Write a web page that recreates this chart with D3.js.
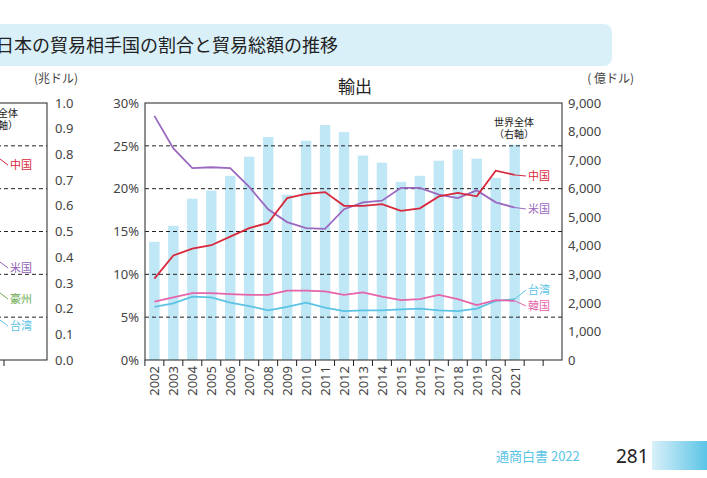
<!DOCTYPE html>
<html><head><meta charset="utf-8">
<script src="https://cdn.jsdelivr.net/npm/d3@7"></script>
<style>body{margin:0;background:#fff;font-family:"Noto Sans CJK JP","Noto Sans",sans-serif}</style>
</head><body><svg id="c" width="707" height="478"></svg>
<script>
var years = ["2002","2003","2004","2005","2006","2007","2008","2009","2010","2011","2012","2013","2014","2015","2016","2017","2018","2019","2020","2021"];
var worldTotal = [4140,4700,5650,5930,6450,7120,7810,5790,7680,8230,7980,7160,6910,6240,6450,6980,7370,7050,6380,7540];
var china = [9.5,12.2,13.0,13.4,14.4,15.4,16.0,18.9,19.4,19.6,18.0,18.0,18.2,17.4,17.7,19.1,19.5,19.1,22.1,21.6];
var usa = [28.5,24.7,22.4,22.5,22.4,20.2,17.6,16.1,15.4,15.3,17.6,18.4,18.6,20.1,20.1,19.3,18.9,19.8,18.4,17.8];
var korea = [6.8,7.3,7.8,7.8,7.7,7.6,7.6,8.1,8.1,8.0,7.6,7.9,7.4,7.0,7.1,7.6,7.1,6.4,7.0,6.9];
var taiwan = [6.2,6.6,7.4,7.3,6.7,6.3,5.8,6.2,6.7,6.1,5.7,5.8,5.8,5.9,6.0,5.8,5.7,6.0,6.9,7.1];
var pctTicks = [0,5,10,15,20,25,30];
var amtTicks = [0,1000,2000,3000,4000,5000,6000,7000,8000,9000];
var leftTicks = [0,0.1,0.2,0.3,0.4,0.5,0.6,0.7,0.8,0.9,1.0];

var svg = d3.select("#c");
var blue = "#5bc4e6", barC = "#bfe7f6";

// header band
svg.append("rect").attr("x",-20).attr("y",24).attr("width",632).attr("height",42).attr("rx",8).attr("fill","#d9f0f9");
svg.append("text").attr("x",-4).attr("y",52).attr("font-size",18).attr("fill","#222").text("日本の貿易相手国の割合と貿易総額の推移");

// left partial panel
var ly = d3.scaleLinear().domain([0,1]).range([360,103]);
svg.append("rect").attr("x",-10).attr("y",103).attr("width",57).attr("height",257).attr("fill","none").attr("stroke","#222");
[1,2,3,4,5].forEach(function(k){
  svg.append("line").attr("x1",-10).attr("x2",47).attr("y1",ly(k/6)).attr("y2",ly(k/6)).attr("stroke","#222").attr("stroke-dasharray","4,3");
});
svg.append("g").attr("transform","translate(47,0)").call(d3.axisRight(ly).tickValues(leftTicks).tickFormat(d3.format(".1f")).tickSize(0).tickPadding(8))
  .call(function(g){g.select(".domain").remove();g.selectAll("text").attr("font-size",13).attr("fill","#444").attr("font-family","Noto Sans");});
svg.append("text").attr("x",78).attr("y",83).attr("text-anchor","end").attr("font-size",12).attr("fill","#444").text("(兆ドル)");
svg.append("text").attr("x",-2).attr("y",117).attr("font-size",10).attr("fill","#222").text("全体");
svg.append("text").attr("x",-2).attr("y",129).attr("font-size",10).attr("fill","#222").text("軸）");
svg.append("line").attr("x1",4).attr("x2",4).attr("y1",360).attr("y2",366).attr("stroke","#222");
var leftLabels = [["中国","#d8283c",165],["米国","#8f62b5",268],["豪州","#6aa84f",299],["台湾",blue,326]];
leftLabels.forEach(function(d){
  svg.append("path").attr("d","M0,"+(d[2]-6)+"L8,"+d[2]).attr("stroke",d[1]).attr("fill","none");
  svg.append("text").attr("x",10).attr("y",d[2]+4).attr("font-size",11).attr("fill",d[1]).text(d[0]);
});

// main chart
var px0 = 145, px1 = 562, pTop = 103, pBot = 360;
var xb = d3.scaleBand().domain(years.concat(["e1","e2"])).range([px0,px1]).paddingInner(0.45).paddingOuter(0.22);
var yp = d3.scaleLinear().domain([0,30]).range([pBot,pTop]);
var ya = d3.scaleLinear().domain([0,9000]).range([pBot,pTop]);

svg.selectAll(".bar").data(worldTotal).enter().append("rect")
  .attr("x",function(d,i){return xb(years[i]);}).attr("width",xb.bandwidth())
  .attr("y",function(d){return ya(d);}).attr("height",function(d){return pBot-ya(d);}).attr("fill",barC);

[5,10,15,20,25].forEach(function(v){
  svg.append("line").attr("x1",px0).attr("x2",px1).attr("y1",yp(v)).attr("y2",yp(v)).attr("stroke","#222").attr("stroke-dasharray","4,3");
});
svg.append("rect").attr("x",px0).attr("y",pTop).attr("width",px1-px0).attr("height",pBot-pTop).attr("fill","none").attr("stroke","#222");

var cx = function(i){return xb(years[i])+xb.bandwidth()/2;};
var line = d3.line().x(function(d,i){return cx(i);}).y(function(d){return yp(d);});
[[usa,"#9b69c0"],[taiwan,"#5cc3e4"],[korea,"#e565aa"],[china,"#d8283c"]].forEach(function(s){
  svg.append("path").datum(s[0]).attr("d",line).attr("fill","none").attr("stroke",s[1]).attr("stroke-width",1.8);
});

svg.append("g").attr("transform","translate("+px0+",0)").call(d3.axisLeft(yp).tickValues(pctTicks).tickFormat(function(d){return d+"%";}).tickSize(0).tickPadding(6))
  .call(function(g){g.select(".domain").remove();g.selectAll("text").attr("font-size",13).attr("fill","#444").attr("font-family","Noto Sans");});
svg.append("g").attr("transform","translate("+px1+",0)").call(d3.axisRight(ya).tickValues(amtTicks).tickFormat(d3.format(",")).tickSize(0).tickPadding(6))
  .call(function(g){g.select(".domain").remove();g.selectAll("text").attr("font-size",13).attr("fill","#444").attr("font-family","Noto Sans");});

// x axis ticks & labels
var step = xb.step(), gap = step - xb.bandwidth();
for (var i=0;i<=21;i++){
  var tx = xb(years[0]) - gap/2 + i*step;
  svg.append("line").attr("x1",tx).attr("x2",tx).attr("y1",pBot).attr("y2",pBot+6).attr("stroke","#222");
}
svg.selectAll(".xl").data(years).enter().append("text")
  .attr("transform",function(d,i){return "translate("+(cx(i)+5)+","+(pBot+6)+") rotate(-90)";})
  .attr("text-anchor","end").attr("font-size",13).attr("fill","#444").attr("font-family","Noto Sans").text(function(d){return d;});

svg.append("text").attr("x",355).attr("y",93).attr("text-anchor","middle").attr("font-size",17).attr("fill","#222").text("輸出");
svg.append("text").attr("x",634).attr("y",83).attr("text-anchor","end").attr("font-size",12).attr("fill","#444").text("( 億ドル)");
svg.append("text").attr("x",514).attr("y",126).attr("text-anchor","middle").attr("font-size",10).attr("fill","#222").text("世界全体");
svg.append("text").attr("x",514).attr("y",138).attr("text-anchor","middle").attr("font-size",10).attr("fill","#222").text("（右軸）");

var n = years.length-1;
var ends = [[china,"中国","#d8283c",176],[usa,"米国","#9b69c0",209],[taiwan,"台湾",blue,290],[korea,"韓国","#e565aa",306]];
ends.forEach(function(e){
  svg.append("path").attr("d","M"+cx(n)+","+yp(e[0][n])+"L526,"+e[3]).attr("stroke",e[2]).attr("fill","none").attr("stroke-width",1);
  svg.append("text").attr("x",528).attr("y",e[3]+4).attr("font-size",11).attr("fill",e[2]).text(e[1]);
});

// footer
var grad = svg.append("defs").append("linearGradient").attr("id","fg");
grad.append("stop").attr("offset","0").attr("stop-color","#d9f0f9");
grad.append("stop").attr("offset","1").attr("stop-color","#5bc4e6");
svg.append("rect").attr("x",652).attr("y",441).attr("width",55).attr("height",29).attr("fill","url(#fg)");
svg.append("text").attr("x",496).attr("y",461).attr("font-size",13).attr("fill",blue).text("通商白書 2022");
svg.append("text").attr("x",616).attr("y",463).attr("font-size",19).attr("fill","#222").attr("font-family","Noto Sans").text("281");
</script></body></html>
